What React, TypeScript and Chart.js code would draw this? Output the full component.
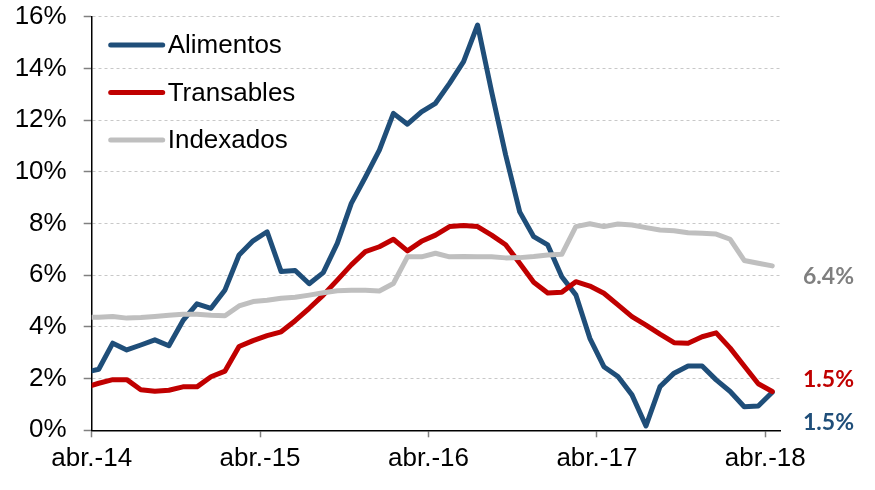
import React, { useEffect, useRef } from 'react';
import { Chart, registerables } from 'chart.js';

Chart.register(...registerables);

// Monthly categories (first one is clipped by the y-axis)
const months = [
  'mar.-14', 'abr.-14', 'may.-14', 'jun.-14', 'jul.-14', 'ago.-14', 'sep.-14', 'oct.-14', 'nov.-14', 'dic.-14',
  'ene.-15', 'feb.-15', 'mar.-15', 'abr.-15', 'may.-15', 'jun.-15', 'jul.-15', 'ago.-15', 'sep.-15', 'oct.-15', 'nov.-15', 'dic.-15',
  'ene.-16', 'feb.-16', 'mar.-16', 'abr.-16', 'may.-16', 'jun.-16', 'jul.-16', 'ago.-16', 'sep.-16', 'oct.-16', 'nov.-16', 'dic.-16',
  'ene.-17', 'feb.-17', 'mar.-17', 'abr.-17', 'may.-17', 'jun.-17', 'jul.-17', 'ago.-17', 'sep.-17', 'oct.-17', 'nov.-17', 'dic.-17',
  'ene.-18', 'feb.-18', 'mar.-18', 'abr.-18',
];

const alimentos = [
  2.24, 2.36, 3.37, 3.11, 3.30, 3.50, 3.27, 4.24, 4.89, 4.72,
  5.43, 6.78, 7.33, 7.68, 6.14, 6.18, 5.67, 6.10, 7.23, 8.78, 9.79, 10.84,
  12.26, 11.84, 12.32, 12.65, 13.42, 14.26, 15.68, 13.10, 10.65, 8.45, 7.49, 7.17,
  5.94, 5.24, 3.56, 2.46, 2.08, 1.37, 0.17, 1.69, 2.21, 2.49, 2.49, 1.95,
  1.50, 0.91, 0.94, 1.47,
];

const transables = [
  1.66, 1.82, 1.96, 1.96, 1.57, 1.51, 1.55, 1.68, 1.68, 2.07,
  2.29, 3.24, 3.47, 3.66, 3.81, 4.24, 4.72, 5.23, 5.81, 6.40, 6.91, 7.10,
  7.39, 6.94, 7.31, 7.55, 7.88, 7.92, 7.88, 7.55, 7.18, 6.46, 5.73, 5.31,
  5.34, 5.75, 5.58, 5.30, 4.85, 4.40, 4.07, 3.72, 3.39, 3.37, 3.62, 3.77,
  3.18, 2.49, 1.80, 1.50,
];

const indexados = [
  4.37, 4.37, 4.40, 4.34, 4.36, 4.40, 4.45, 4.49, 4.49, 4.45,
  4.43, 4.81, 4.98, 5.03, 5.11, 5.15, 5.23, 5.32, 5.40, 5.42, 5.42, 5.39,
  5.68, 6.71, 6.71, 6.85, 6.71, 6.72, 6.71, 6.71, 6.67, 6.68, 6.72, 6.78,
  6.81, 7.88, 7.99, 7.88, 7.98, 7.94, 7.84, 7.75, 7.72, 7.64, 7.62, 7.59,
  7.39, 6.57, 6.46, 6.36,
];

const seriesNames = ['Alimentos', 'Transables', 'Indexados'];
const seriesColors = ['#1F4E79', '#C00000', '#BFBFBF'];
const endLabelColors = ['#1F4E79', '#C00000', '#7F7F7F'];
// y-values (in %) at which the end labels are placed
const endLabelY = [0.3, 1.98, 5.96];

const xTickPositions = [0, 12, 24, 36, 48];
const xTickLabels = ['abr.-14', 'abr.-15', 'abr.-16', 'abr.-17', 'abr.-18'];

const toPoints = (vals: number[]) => vals.map((v, i) => ({ x: i - 0.5, y: v }));

export default function App() {
  const ref = useRef<HTMLCanvasElement | null>(null);

  useEffect(() => {
    if (!ref.current) return;
    const allSeries = [alimentos, transables, indexados];

    const overlay = {
      id: 'overlay',
      afterDatasetsDraw(chart: any) {
        const { ctx, chartArea, scales } = chart;
        ctx.save();
        // legend
        ctx.font = '26px "Liberation Sans", Arial, sans-serif';
        ctx.textBaseline = 'middle';
        ctx.textAlign = 'left';
        seriesNames.forEach((name, i) => {
          const y = chartArea.top + 28.3 + i * 47.5;
          const x0 = chartArea.left + 19;
          ctx.strokeStyle = seriesColors[i];
          ctx.lineWidth = 5;
          ctx.lineCap = 'round';
          ctx.beginPath();
          ctx.moveTo(x0, y);
          ctx.lineTo(x0 + 52, y);
          ctx.stroke();
          ctx.fillStyle = '#000000';
          ctx.fillText(name, x0 + 57, y + 1);
        });
        // end labels
        ctx.font = 'bold 23px Lato, "Open Sans", sans-serif';
        allSeries.forEach((vals, i) => {
          const last = vals[vals.length - 1];
          const y = scales.y.getPixelForValue(endLabelY[i]);
          ctx.fillStyle = endLabelColors[i];
          ctx.fillText(last.toFixed(1) + '%', chartArea.right + 23, y);
        });
        ctx.restore();
      },
    };

    const chart = new Chart(ref.current, {
      type: 'line',
      data: {
        datasets: allSeries.map((vals, i) => ({
          label: seriesNames[i],
          data: toPoints(vals),
          borderColor: seriesColors[i],
          backgroundColor: seriesColors[i],
          borderWidth: 5,
          pointRadius: 0,
          tension: 0,
          borderJoinStyle: 'round',
          borderCapStyle: 'round',
          clip: { left: 0, top: 10, right: 10, bottom: 10 },
          order: 3 - i,
        })) as any,
      },
      options: {
        animation: false,
        responsive: false,
        layout: { padding: { top: 16.7, right: 95, left: 0, bottom: 0 } },
        plugins: {
          legend: { display: false },
          tooltip: { enabled: false },
        },
        scales: {
          x: {
            type: 'linear',
            min: 0,
            max: 49.05,
            afterBuildTicks: (scale: any) => {
              scale.ticks = xTickPositions.map((v) => ({ value: v }));
            },
            afterFit: (scale: any) => {
              scale.height = 59.7;
              scale.paddingLeft = 0;
              scale.paddingRight = 0;
            },
            ticks: {
              autoSkip: false,
              maxRotation: 0,
              padding: 6,
              color: '#000000',
              font: { family: '"Liberation Sans", Arial, sans-serif', size: 26 },
              callback: (_v: any, idx: number) => xTickLabels[idx],
            },
            grid: {
              drawOnChartArea: false,
              drawTicks: true,
              tickLength: 7,
              tickColor: '#808080',
              tickWidth: 1.5,
            },
            border: { display: true, color: '#000000', width: 1.5 },
          },
          y: {
            min: 0,
            max: 16,
            afterFit: (scale: any) => {
              scale.width = 91.7;
              scale.paddingTop = 0;
              scale.paddingBottom = 0;
            },
            ticks: {
              stepSize: 2,
              padding: 17,
              color: '#000000',
              font: { family: '"Liberation Sans", Arial, sans-serif', size: 26 },
              callback: (v: any) => v + '%',
            },
            grid: {
              color: '#C8C8C8',
              lineWidth: 1,
              drawTicks: true,
              tickLength: 8,
              tickColor: '#808080',
              tickWidth: 1.5,
            },
            border: { display: true, color: '#000000', width: 1.5, dash: [3, 3] },
          },
        },
      },
      plugins: [overlay],
    });

    return () => chart.destroy();
  }, []);

  return (
    <div style={{ position: 'fixed', left: 0, top: 0, width: 875, height: 490, background: '#ffffff' }}>
      <canvas ref={ref} width={875} height={490} style={{ width: 875, height: 490, display: 'block' }} />
    </div>
  );
}
